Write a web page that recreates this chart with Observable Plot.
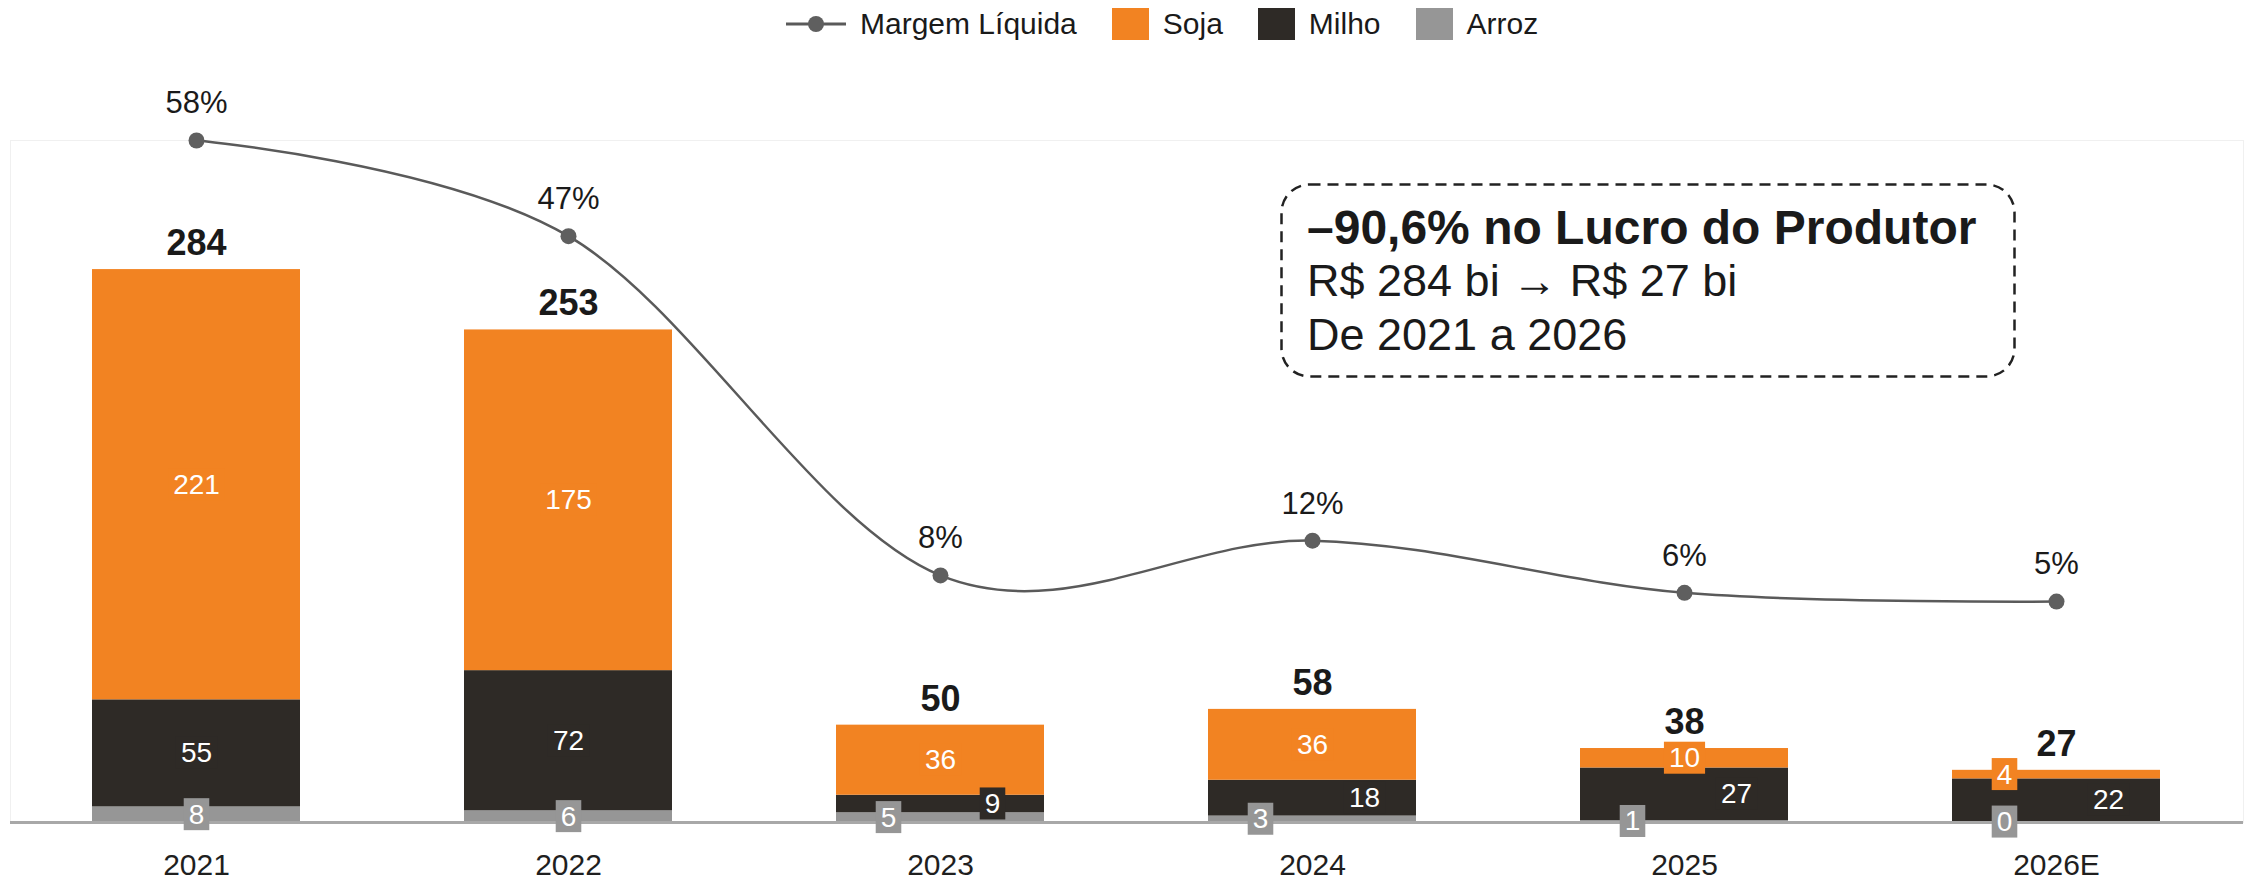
<!DOCTYPE html>
<html><head><meta charset="utf-8">
<script src="https://cdn.jsdelivr.net/npm/d3@7"></script>
<script src="https://cdn.jsdelivr.net/npm/@observablehq/plot@0.6"></script>
<style>
body{margin:0;background:#fff;font-family:"Liberation Sans",Arial,sans-serif;}
#wrap{position:relative;width:2249px;height:882px;overflow:hidden;background:#fff}
#legend{position:relative;height:48px;display:flex;align-items:center;padding-left:786px;box-sizing:border-box;font-size:30px;color:#1a1a1a}
.item{display:flex;align-items:center;margin-right:35px}
.sym{margin-right:14px;flex:none}
#chart svg{display:block}
#note{position:absolute;left:1280px;top:183px;width:736px;height:195px}
</style></head><body>
<div id="wrap"><div id="legend"></div><div id="chart"></div><div id="note"></div></div>
<script>
// ---- data ----
const years = ["2021", "2022", "2023", "2024", "2025", "2026E"];
const crops = ["Arroz", "Milho", "Soja"];            // stack order, bottom to top
const arroz = [8, 6, 5, 3.3, 1, 0.4];
const milho = [55, 72, 9, 18.4, 27, 22];
const soja  = [221, 175, 36, 36.4, 10, 4.4];
const totals = [284, 253, 50, 58, 38, 27];
const margem = [58, 47, 8, 12, 6, 5];                // Margem Líquida, %
const margemAxis = [-20.4, 58];                      // secondary axis extent (%)
const legendNames = ["Margem Líquida", "Soja", "Milho", "Arroz"];
const noteLines = ["–90,6% no Lucro do Produtor", "R$ 284 bi → R$ 27 bi", "De 2021 a 2026"];

// ---- styling ----
const cropColor = {Arroz: "#969696", Milho: "#2E2A26", Soja: "#F28322"};
const lineColor = "#5a5a5a";
const series = {Arroz: arroz, Milho: milho, Soja: soja};
const yMax = 350.3;

const rows = [];
years.forEach((year, i) => crops.forEach(crop => rows.push({year, crop, value: series[crop][i]})));

function labelShift(i, crop) {
  if (i < 2) return 0;
  if (crop === "Arroz") return -52;
  if (crop === "Milho") return 52;
  return years[i] === "2026E" ? -52 : 0;
}
const labels = [];
const stackTop = [];
years.forEach((year, i) => {
  let base = 0;
  crops.forEach(crop => {
    const v = series[crop][i];
    labels.push({year, crop, text: String(Math.round(v)), mid: base + v / 2, color: cropColor[crop], shift: labelShift(i, crop)});
    base += v;
  });
  stackTop.push(base);
});
const totalRows = years.map((year, i) => ({year, top: stackTop[i], text: String(totals[i])}));

const pctToY = d3.scaleLinear().domain(margemAxis).range([0, yMax]);
const lineRows = years.map((year, i) => ({year, pct: margem[i], y: pctToY(margem[i])}));

const shifts = [-52, 0, 52];
const labelGroups = shifts.map(s => labels.filter(d => d.shift === s));

const plot = Plot.plot({
  width: 2249,
  height: 834,
  marginTop: 92,
  marginBottom: 60,
  marginLeft: 10,
  marginRight: 6,
  style: {fontFamily: "'Liberation Sans', Arial, sans-serif", fontSize: "30px", color: "#1f1f1f", background: "#fff"},
  x: {type: "band", domain: years, paddingInner: 0.44, paddingOuter: 0.217, tickSize: 0, tickPadding: 31, label: null},
  y: {domain: [0, yMax], axis: null},
  color: {domain: crops, range: crops.map(c => cropColor[c])},
  marks: [
    Plot.frame({stroke: "#f0f0f0"}),
    Plot.barY(rows, {x: "year", y: "value", fill: "crop", order: crops}),
    Plot.ruleY([0], {stroke: "#a8a8a8", strokeWidth: 3}),
    ...labelGroups.map((g, k) => Plot.text(g, {x: "year", y: "mid", text: "text", dx: shifts[k], fill: "white", fontSize: 28, ariaDescription: "seglabel" + k})),
    Plot.text(totalRows, {x: "year", y: "top", text: "text", dy: -26, fontSize: 36, fontWeight: "bold", fill: "#1a1a1a"}),
    Plot.line(lineRows, {x: "year", y: "y", curve: "cardinal", stroke: lineColor, strokeWidth: 2.5}),
    Plot.dot(lineRows, {x: "year", y: "y", r: 8, fill: "#5f5f5f"}),
    Plot.text(lineRows, {x: "year", y: "y", text: d => d.pct + "%", dy: -37, fontSize: 31, fill: "#1a1a1a"})
  ]
});
document.getElementById("chart").appendChild(plot);

// boxes behind segment labels
const NS = "http://www.w3.org/2000/svg";
labelGroups.forEach((g, k) => {
  const grp = plot.querySelector(`g[aria-description="seglabel${k}"]`);
  if (!grp) return;
  const texts = grp.querySelectorAll("text");
  texts.forEach((t, j) => {
    const d = g[j];
    if (!d) return;
    const b = t.getBBox();
    const r = document.createElementNS(NS, "rect");
    const w = b.width + 10, h = 32;
    r.setAttribute("x", b.x + b.width / 2 - w / 2);
    r.setAttribute("y", b.y + b.height / 2 - h / 2);
    r.setAttribute("width", w);
    r.setAttribute("height", h);
    r.setAttribute("fill", d.color);
    const tr = t.getAttribute("transform");
    if (tr) r.setAttribute("transform", tr);
    grp.insertBefore(r, t);
  });
});

// legend
const legend = document.getElementById("legend");
legendNames.forEach(name => {
  const item = document.createElement("div");
  item.className = "item";
  let sym;
  if (name === "Margem Líquida") {
    sym = `<svg class="sym" width="60" height="20"><line x1="0" x2="60" y1="10" y2="10" stroke="${lineColor}" stroke-width="3"/><circle cx="30" cy="10" r="8" fill="#5f5f5f"/></svg>`;
  } else {
    sym = `<svg class="sym" width="37" height="32"><rect width="37" height="32" fill="${cropColor[name]}"/></svg>`;
  }
  item.innerHTML = sym + `<span>${name}</span>`;
  legend.appendChild(item);
});

// annotation box
const note = document.getElementById("note");
note.innerHTML = `<svg width="736" height="195" style="font-family:'Liberation Sans',Arial,sans-serif">
<rect x="1.5" y="1.5" width="733" height="192" rx="28" fill="none" stroke="#222" stroke-width="2.5" stroke-dasharray="11 7"/>
${noteLines.map((l, i) => `<text x="27" y="${i === 0 ? 61 : 59 + i * 54}" font-size="${i === 0 ? 48 : 45}" fill="#1a1a1a" ${i === 0 ? 'font-weight="bold"' : ''}>${l}</text>`).join("")}
</svg>`;
</script>
</body></html>
